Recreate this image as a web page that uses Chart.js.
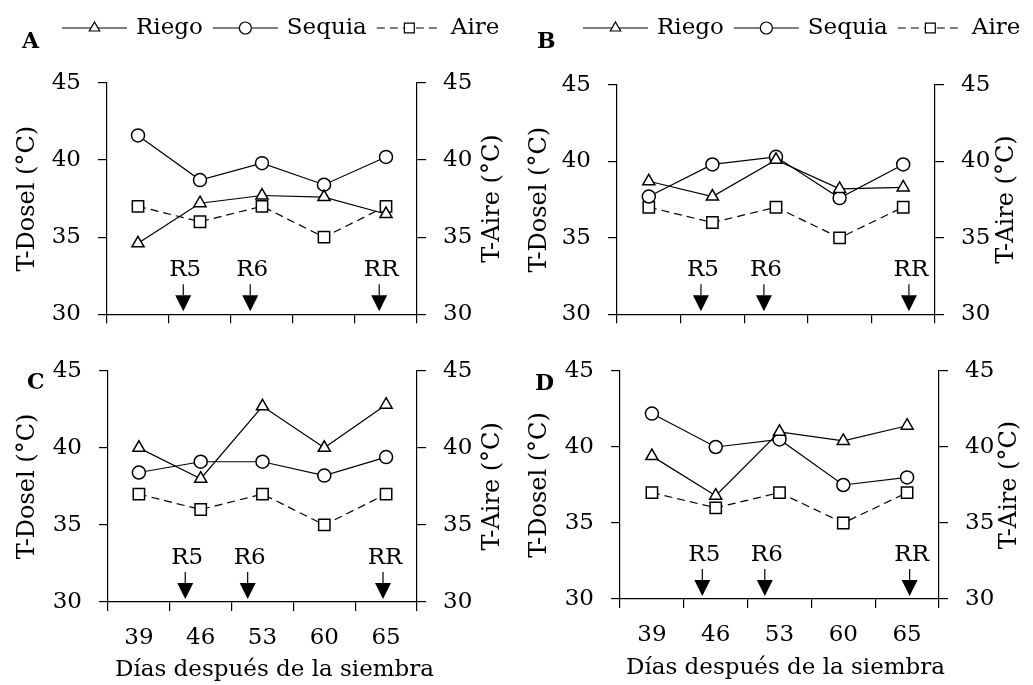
<!DOCTYPE html>
<html><head><meta charset="utf-8">
<script src="https://cdn.jsdelivr.net/npm/chart.js@4/dist/chart.umd.min.js"></script>
<style>
html,body{margin:0;padding:0;background:#fff;}
#wrap{position:relative;width:1033px;height:685px;overflow:hidden;background:#fff;}
canvas{position:absolute;}
</style></head><body><div id="wrap">
<canvas id="cA" width="520" height="345" style="left:0;top:0;width:520px;height:345px"></canvas>
<canvas id="cB" width="533" height="345" style="left:500px;top:0;width:533px;height:345px"></canvas>
<canvas id="cC" width="520" height="345" style="left:0;top:340px;width:520px;height:345px"></canvas>
<canvas id="cD" width="533" height="345" style="left:500px;top:340px;width:533px;height:345px"></canvas>
</div>
<script>
// ---- data ----
const days = ['39', '46', '53', '60', '65'];
const yTicks = [30, 35, 40, 45];
const seriesNames = ['Riego', 'Sequia', 'Aire'];
const stageLabels = ['R5', 'R6', 'RR'];
const yTitleLeft = 'T-Dosel (°C)';
const yTitleRight = 'T-Aire (°C)';
const xTitle = 'Días después de la siembra';

const riegoA = [34.6, 37.2, 37.7, 37.6, 36.5];
const sequiaA = [41.6, 38.7, 39.8, 38.4, 40.2];
const aireA = [37, 36, 37, 35, 37];
const stagePosA = [0.73, 1.81, 3.89];

const riegoB = [38.7, 37.7, 40.1, 38.2, 38.3];
const sequiaB = [37.7, 39.8, 40.3, 37.6, 39.8];
const aireB = [37, 36, 37, 35, 37];
const stagePosB = [0.82, 1.81, 4.09];

const riegoC = [40.0, 38.0, 42.7, 40.0, 42.8];
const sequiaC = [38.4, 39.1, 39.1, 38.2, 39.4];
const aireC = [37, 36, 37, 35, 37];
const stagePosC = [0.75, 1.76, 3.95];

const riegoD = [39.4, 36.8, 41.0, 40.4, 41.4];
const sequiaD = [42.2, 40.0, 40.5, 37.5, 38.0];
const aireD = [37, 36, 37, 35, 37];
const stagePosD = [0.79, 1.77, 4.04];

// ---- styling ----
const FONT = '"DejaVu Serif", serif';
const tickFont = {family: FONT, size: 23};
const titleFont = {family: FONT, size: 24};
const xTitleSize = 23;
const BLACK = '#000';

function drawMarker(ctx, style, x, y, r) {
  ctx.beginPath();
  if (style === 'triangle') {
    ctx.moveTo(x, y - r);
    ctx.lineTo(x + r * 0.866, y + r * 0.5);
    ctx.lineTo(x - r * 0.866, y + r * 0.5);
    ctx.closePath();
  } else if (style === 'circle') {
    ctx.arc(x, y, r, 0, Math.PI * 2);
  } else {
    const s = r * 0.7071;
    ctx.rect(x - s, y - s, 2 * s, 2 * s);
  }
  ctx.fillStyle = '#fff';
  ctx.fill();
  ctx.stroke();
}

const stagePlugin = {
  id: 'stages',
  afterDatasetsDraw(chart, args, opts) {
    const {ctx, chartArea, scales} = chart;
    ctx.save();
    ctx.fillStyle = BLACK; ctx.strokeStyle = BLACK; ctx.lineWidth = 1.2;
    ctx.font = '23px ' + FONT;
    ctx.textAlign = 'center'; ctx.textBaseline = 'alphabetic';
    opts.positions.forEach((p, i) => {
      const x = scales.x.getPixelForValue(p);
      const b = chartArea.bottom;
      ctx.fillText(stageLabels[i], x + 2, b - 38);
      ctx.beginPath(); ctx.moveTo(x, b - 30); ctx.lineTo(x, b - 19); ctx.stroke();
      ctx.beginPath(); ctx.moveTo(x - 8, b - 19); ctx.lineTo(x + 8, b - 19); ctx.lineTo(x, b - 3); ctx.closePath(); ctx.fill();
    });
    ctx.restore();
  }
};

const labelPlugin = {
  id: 'panelLabel',
  afterDraw(chart, args, opts) {
    const {ctx, chartArea} = chart;
    ctx.save();
    ctx.fillStyle = BLACK; ctx.strokeStyle = BLACK;
    // right axis title, read bottom-to-top like the left one
    ctx.save();
    ctx.font = titleFont.size + 'px ' + FONT;
    ctx.textAlign = 'center'; ctx.textBaseline = 'middle';
    ctx.translate(chart.width - opts.rightTitleOff, (chartArea.top + chartArea.bottom) / 2);
    ctx.rotate(-Math.PI / 2);
    ctx.fillText(yTitleRight, 0, 0);
    ctx.restore();
    // x axis title (bottom panels)
    if (opts.xTitle) {
      ctx.font = xTitleSize + 'px ' + FONT;
      ctx.textAlign = 'center'; ctx.textBaseline = 'middle';
      ctx.fillText(xTitle, (chartArea.left + chartArea.right) / 2 + opts.xTitleShift, opts.xTitleY);
    }
    ctx.font = 'bold 22px ' + FONT;
    ctx.textAlign = 'left'; ctx.textBaseline = 'alphabetic';
    ctx.fillText(opts.letter, opts.letterX, opts.letterY);
    if (opts.legend) {
      const styles = ['triangle', 'circle', 'rect'];
      const radii = [6, 6, 7];
      const dashes = [[], [], [8, 5]];
      let x = opts.legendX;
      const y = opts.legendY;
      ctx.font = '23px ' + FONT;
      seriesNames.forEach((name, i) => {
        ctx.lineWidth = 1.2;
        ctx.setLineDash(dashes[i]);
        ctx.beginPath(); ctx.moveTo(x, y); ctx.lineTo(x + 65, y); ctx.stroke();
        ctx.setLineDash([]);
        drawMarker(ctx, styles[i], x + 32.5, y, radii[i]);
        ctx.fillStyle = BLACK;
        ctx.fillText(name, x + 74, y + 6);
        x += 74 + ctx.measureText(name).width + 10;
      });
    }
    ctx.restore();
  }
};

function yScale(position, w, titleText, titlePad) {
  return {
    position: position, min: 30, max: 45,
    afterBuildTicks: s => { s.ticks = yTicks.map(v => ({value: v})); },
    afterFit: s => { s.width = w; },
    grid: {drawOnChartArea: false, drawTicks: true, tickLength: 9, color: BLACK, lineWidth: 1.2},
    border: {display: true, color: BLACK, width: 1.2},
    ticks: {font: tickFont, color: BLACK, padding: 17},
    title: {display: titleText !== null, text: titleText || '', font: titleFont, color: BLACK, padding: {top: titlePad, bottom: 0}}
  };
}

function makePanel(id, cfg) {
  const ds = (i, data, style, r, axis, dash) => ({
    label: seriesNames[i], data: data, yAxisID: axis,
    borderColor: BLACK, borderWidth: 1.2, borderDash: dash,
    pointStyle: style, pointRadius: r, pointBorderWidth: 1.5,
    pointBorderColor: BLACK, pointBackgroundColor: '#fff', tension: 0, fill: false
  });
  return new Chart(document.getElementById(id), {
    type: 'line',
    data: {
      labels: days,
      datasets: [
        ds(0, cfg.riego, 'triangle', 7, 'y', []),
        ds(1, cfg.sequia, 'circle', 6.5, 'y', []),
        ds(2, cfg.aire, 'rect', 8, 'y2', [8, 5])
      ]
    },
    options: {
      responsive: false, animation: false, devicePixelRatio: 1,
      events: [],
      layout: {padding: {top: cfg.padTop, left: 0, right: 0, bottom: 0}},
      plugins: {
        legend: {display: false}, tooltip: {enabled: false},
        stages: {positions: cfg.stages},
        panelLabel: cfg.label
      },
      scales: {
        x: {
          type: 'category', offset: true,
          afterFit: s => { s.height = cfg.xH; },
          grid: {offset: true, drawOnChartArea: false, drawTicks: true, tickLength: 9, color: BLACK, lineWidth: 1.2},
          border: {display: true, color: BLACK, width: 1.2},
          ticks: {font: tickFont, color: BLACK, padding: 13, maxRotation: 0,
                  callback: (v, i) => cfg.showX ? days[i] : ''},
          title: {display: false}
        },
        y: yScale('left', cfg.leftW, yTitleLeft, cfg.ltPad),
        y2: yScale('right', cfg.rightW, null, 0)
      }
    },
    plugins: [stagePlugin, labelPlugin]
  });
}

makePanel('cA', {riego: riegoA, sequia: sequiaA, aire: aireA, stages: stagePosA,
  padTop: 83, leftW: 107, rightW: 103, xH: 26, showX: false, ltPad: 13,
  label: {letter: 'A', letterX: 22, letterY: 48, legend: true, legendX: 62, legendY: 28, rightTitleOff: 27}});
makePanel('cB', {riego: riegoB, sequia: sequiaB, aire: aireB, stages: stagePosB,
  padTop: 85, leftW: 117, rightW: 98, xH: 28, showX: false, ltPad: 25,
  label: {letter: 'B', letterX: 37, letterY: 48, legend: true, legendX: 83, legendY: 28, rightTitleOff: 26}});
makePanel('cC', {riego: riegoC, sequia: sequiaC, aire: aireC, stages: stagePosC,
  padTop: 30, leftW: 108, rightW: 103, xH: 83, showX: true, ltPad: 13,
  label: {letter: 'C', letterX: 27, letterY: 49, legend: false, rightTitleOff: 27,
          xTitle: true, xTitleShift: 12, xTitleY: 330}});
makePanel('cD', {riego: riegoD, sequia: sequiaD, aire: aireD, stages: stagePosD,
  padTop: 31, leftW: 120, rightW: 94, xH: 86, showX: true, ltPad: 25,
  label: {letter: 'D', letterX: 35, letterY: 50, legend: false, rightTitleOff: 23,
          xTitle: true, xTitleShift: 6, xTitleY: 328}});
</script>
</body></html>
